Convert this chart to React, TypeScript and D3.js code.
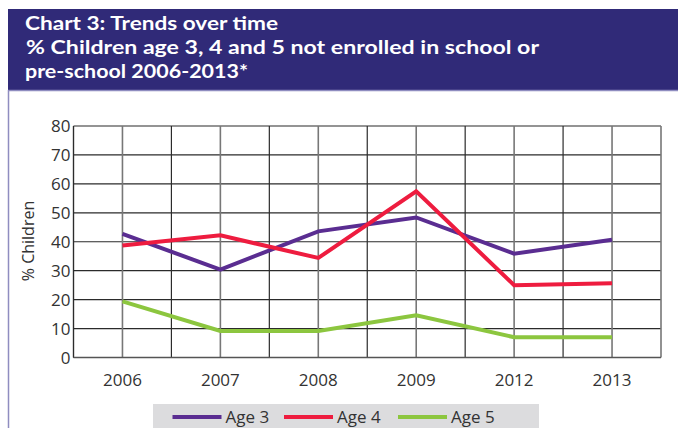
import React from "react";
import * as d3 from "d3";

const years = ["2006", "2007", "2008", "2009", "2012", "2013"];
const age3 = [42.7, 30.4, 43.6, 48.4, 35.9, 40.7];
const age4 = [38.7, 42.2, 34.4, 57.4, 25.0, 25.7];
const age5 = [19.4, 9.2, 9.2, 14.6, 7.0, 7.0];
const yTicks = [0, 10, 20, 30, 40, 50, 60, 70, 80];
const seriesNames = ["Age 3", "Age 4", "Age 5"];
const seriesColors = ["#5a2d91", "#ee1c3f", "#8cc63f"];
const titleLines = [
  "Chart 3: Trends over time",
  "% Children age 3, 4 and 5 not enrolled in school or",
  "pre-school 2006-2013*",
];

const W = 678;
const H = 428;
const plot = { left: 73.5, right: 661, top: 126, bottom: 357.5 };
const FONT = "'Open Sans', 'DejaVu Sans', sans-serif";
const TITLE_FONT = "Lato, 'Open Sans', sans-serif";

export default function App() {
  const x = d3.scalePoint<string>().domain(years).range([plot.left, plot.right]).padding(0.5);
  const y = d3.scaleLinear().domain([0, 80]).range([plot.bottom, plot.top]);
  const step = x.step();
  const vLines: { px: number; cat: boolean }[] = [];
  years.forEach((yr) => {
    vLines.push({ px: x(yr)! - step / 2, cat: false });
    vLines.push({ px: x(yr)!, cat: true });
  });
  const line = d3
    .line<number>()
    .x((_, i) => x(years[i])!)
    .y((d) => y(d));
  const series = [age3, age4, age5];
  const titleX = [25, 26, 25];
  const titleWidths = [253, 513, 223];

  const legendX = d3.scaleOrdinal<string, number>().domain(seriesNames).range([172.5, 284, 398]);

  return (
    <svg width={W} height={H} style={{ position: "absolute", left: 0, top: 0 }}>
      <rect x={0} y={0} width={W} height={H} fill="#fff" />
      {/* banner */}
      <rect x={8} y={9} width={W - 8} height={82} fill="#302a78" />
      <line x1={8} x2={W} y1={90.5} y2={90.5} stroke="#8f8dc0" strokeWidth={1.5} />
      <line x1={8.5} x2={8.5} y1={90} y2={H} stroke="#8f8dc0" strokeWidth={1.5} />
      {titleLines.map((t, i) => (
        <text
          key={t}
          x={titleX[i]}
          y={29.5 + i * 24}
          fill="#fff"
          fontFamily={TITLE_FONT}
          fontWeight={700}
          fontSize={19.5}
          textLength={titleWidths[i]}
          lengthAdjust="spacingAndGlyphs"
        >
          {t}
        </text>
      ))}
      {/* grid */}
      {yTicks.map((t) => (
        <line key={"h" + t} x1={plot.left} x2={plot.right} y1={y(t)} y2={y(t)} stroke="#2b2b2b" strokeWidth={1.2} />
      ))}
      {vLines.map((v, i) => (
        <line
          key={"v" + i}
          x1={v.px}
          x2={v.px}
          y1={plot.top}
          y2={plot.bottom}
          stroke={v.cat ? "#777" : "#2b2b2b"}
          strokeWidth={v.cat ? 1.6 : 1.2}
        />
      ))}
      <line x1={plot.left} x2={plot.left} y1={plot.top} y2={plot.bottom} stroke="#2b2b2b" strokeWidth={1.2} />
      <line x1={plot.right} x2={plot.right} y1={plot.top} y2={plot.bottom} stroke="#777" strokeWidth={1.6} />
      <line x1={plot.left} x2={plot.right} y1={plot.bottom} y2={plot.bottom} stroke="#555" strokeWidth={1.6} />
      {/* y ticks */}
      {yTicks.map((t) => (
        <text key={"yt" + t} x={70.5} y={y(t) + 6} textAnchor="end" fontFamily={FONT} fontSize={17} fill="#333">
          {t}
        </text>
      ))}
      <text
        transform={`translate(34,241) rotate(-90)`}
        textAnchor="middle"
        fontFamily={FONT}
        fontSize={16}
        fill="#333"
      >
        % Children
      </text>
      {/* x ticks */}
      {years.map((yr) => (
        <text key={"xt" + yr} x={x(yr)} y={385.5} textAnchor="middle" fontFamily={FONT} fontSize={17} fill="#333">
          {yr}
        </text>
      ))}
      {/* lines */}
      {series.map((s, i) => (
        <path key={"s" + i} d={line(s) ?? ""} fill="none" stroke={seriesColors[i]} strokeWidth={4} strokeLinejoin="miter" />
      ))}
      {/* legend */}
      <rect x={153} y={404} width={386} height={24} fill="#dcdcde" />
      {seriesNames.map((n, i) => (
        <g key={n}>
          <line
            x1={legendX(n)}
            x2={legendX(n) + 49}
            y1={417}
            y2={417}
            stroke={seriesColors[i]}
            strokeWidth={4}
          />
          <text x={legendX(n) + 53} y={423} fontFamily={FONT} fontSize={17} fill="#333">
            {n}
          </text>
        </g>
      ))}
    </svg>
  );
}
